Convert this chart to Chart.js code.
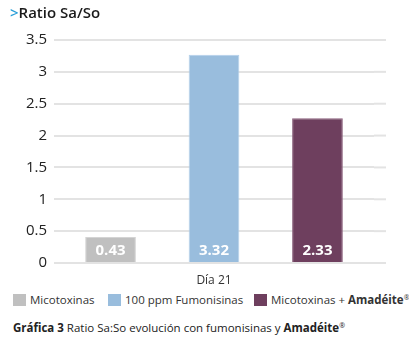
<!DOCTYPE html>
<html>
<head>
<meta charset="utf-8">
<script src="https://cdn.jsdelivr.net/npm/chart.js@4"></script>
<style>
    body { margin: 0; background: #fff; font-family: "Open Sans", sans-serif; }
    #wrap { position: relative; width: 409px; height: 344px; overflow: hidden; }
    #titulo { position: absolute; left: 10px; top: 2px; font-size: 15px; font-weight: 600; color: #1a1a1a; }
    #titulo span { color: #2a9fd8; }
    #grafico { position: absolute; left: 0; top: 0; }
    #leyenda { position: absolute; left: 0; top: 292px; width: 409px; height: 18px; font-size: 11.5px; color: #333; white-space: nowrap; }
    #leyenda .item { position: absolute; top: 0; }
    #leyenda .caja { display: inline-block; width: 13px; height: 12px; vertical-align: -2px; margin-right: 4px; }
    #pie { position: absolute; left: 13px; top: 320px; font-size: 11.5px; color: #222; white-space: nowrap; }
    sup { font-size: 7px; vertical-align: 4px; }
</style>
</head>
<body>
<div id="wrap">
    <canvas id="grafico" width="409" height="290"></canvas>
    <div id="titulo"><span>&gt;</span>Ratio Sa/So</div>
    <div id="leyenda"></div>
    <div id="pie"><b>Gráfica 3</b> Ratio Sa:So evolución con fumonisinas y <b>Amadéite</b><sup>®</sup></div>
</div>
<script>
// Datos
const categorias = ['Día 21'];
const series = ['Micotoxinas', '100 ppm Fumonisinas', 'Micotoxinas + Amadéite®'];
const valores = [0.41, 3.27, 2.27];
const etiquetas = ['0.43', '3.32', '2.33'];
const ticksY = [0, 0.5, 1, 1.5, 2, 2.5, 3, 3.5];

const colores = ['#c0c0c0', '#99bddd', '#6e3f5e'];
const bordes = ['#d4d4d4', '#b4d0ea', '#8a5f7c'];

// Leyenda en HTML (texto con negrita parcial)
const leyenda = document.getElementById('leyenda');
const nombresHtml = ['Micotoxinas', '100 ppm Fumonisinas', 'Micotoxinas + <b>Amadéite</b><sup>®</sup>'];
const posLeyenda = [13, 108, 254];
nombresHtml.forEach((n, i) => {
    const el = document.createElement('span');
    el.className = 'item';
    el.style.left = posLeyenda[i] + 'px';
    el.innerHTML = `<span class="caja" style="background:${colores[i]}"></span>${n}`;
    leyenda.appendChild(el);
});

// Etiquetas blancas dentro de las barras
const etiquetasBarras = {
    id: 'etiquetasBarras',
    afterDatasetsDraw(chart) {
        const ctx = chart.ctx;
        const base = chart.scales.y.getPixelForValue(0);
        ctx.save();
        ctx.font = 'bold 15px "Open Sans"';
        ctx.fillStyle = '#ffffff';
        ctx.textAlign = 'center';
        ctx.textBaseline = 'middle';
        chart.data.datasets.forEach((ds, i) => {
            const bar = chart.getDatasetMeta(i).data[0];
            ctx.fillText(etiquetas[i], bar.x, base - 12);
        });
        ctx.restore();
    }
};

// Las líneas de cuadrícula siguen un poco más allá del área
const extensionRejilla = {
    id: 'extensionRejilla',
    beforeDatasetsDraw(chart) {
        const ctx = chart.ctx;
        const y = chart.scales.y;
        const area = chart.chartArea;
        ctx.save();
        ctx.strokeStyle = '#e3e3e3';
        ctx.lineWidth = 2;
        y.ticks.forEach(t => {
            const py = y.getPixelForValue(t.value);
            ctx.beginPath();
            ctx.moveTo(area.right, py);
            ctx.lineTo(area.right + 12, py);
            ctx.stroke();
        });
        ctx.restore();
    }
};

new Chart(document.getElementById('grafico').getContext('2d'), {
    type: 'bar',
    data: {
        labels: categorias,
        datasets: series.map((s, i) => ({
            label: s,
            data: [valores[i]],
            backgroundColor: colores[i],
            borderColor: bordes[i],
            borderWidth: 1,
            categoryPercentage: 0.97,
            barPercentage: 0.49
        }))
    },
    options: {
        responsive: false,
        animation: false,
        layout: { padding: { left: 0, right: 35, top: 40, bottom: 5 } },
        plugins: {
            legend: { display: false },
            tooltip: { enabled: false }
        },
        scales: {
            x: {
                grid: { display: false },
                border: { display: false },
                ticks: { font: { family: 'Open Sans', size: 12 }, color: '#333', padding: 2 },
                afterFit(scale) { scale.height = 22; }
            },
            y: {
                min: 0,
                max: 3.5,
                afterBuildTicks(scale) { scale.ticks = ticksY.map(v => ({ value: v })); },
                grid: { color: '#e3e3e3', lineWidth: 2, drawTicks: false },
                border: { display: false },
                ticks: {
                    font: { family: 'Open Sans', size: 15 },
                    color: '#222',
                    padding: 7,
                    callback: v => String(v)
                },
                afterFit(scale) { scale.width = 54; }
            }
        }
    },
    plugins: [etiquetasBarras, extensionRejilla]
});
</script>
</body>
</html>
